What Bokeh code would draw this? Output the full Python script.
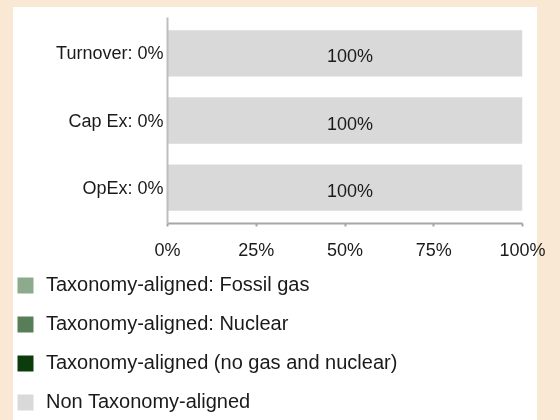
from bokeh.plotting import figure
from bokeh.layouts import column
from bokeh.models import (ColumnDataSource, FactorRange, Range1d, FixedTicker,
                          PrintfTickFormatter, GlobalInlineStyleSheet)
from bokeh.core.properties import value
from bokeh.embed import file_html
from bokeh.resources import INLINE

# ---- data ----
categories = ["Turnover", "Cap Ex", "OpEx"]
fossil_gas = [0, 0, 0]
nuclear = [0, 0, 0]
aligned = [0, 0, 0]
non_aligned = [100, 100, 100]
series_names = ["Taxonomy-aligned: Fossil gas", "Taxonomy-aligned: Nuclear",
                "Taxonomy-aligned (no gas and nuclear)", "Non Taxonomy-aligned"]
series_colors = ["#8DAA8D", "#577E57", "#0C3B0C", "#D9D9D9"]
x_ticks = [0, 25, 50, 75, 100]

FONT = "Liberation Sans"
BEIGE = "#F8E8D4"
TEXT = "#1A1A1A"

aligned_total = [f + n + a for f, n, a in zip(fossil_gas, nuclear, aligned)]
cat_labels = [f"{c}: {t}%" for c, t in zip(categories, aligned_total)]
bar_text = [f"{v}%" for v in non_aligned]
text_x = [t + v / 2 for t, v in zip(aligned_total, non_aligned)]
stackers = ["fg", "nu", "al", "na"]

src = ColumnDataSource(dict(cat=cat_labels, fg=fossil_gas, nu=nuclear, al=aligned,
                            na=non_aligned, tx=text_x, tt=bar_text))

# ---- main bar chart ----
p = figure(width=560, height=262, output_backend="svg", toolbar_location=None,
           y_range=FactorRange(factors=cat_labels[::-1], range_padding=0.024),
           x_range=Range1d(0, 100),
           min_border_left=167, min_border_right=38, min_border_top=17,
           min_border_bottom=36)
p.frame_align = False
p.border_fill_color = None
p.background_fill_color = None
p.outline_line_color = None
css = (f"html {{ background-color: {BEIGE}; }}"
       "html, body { margin: 0; padding: 0; overflow: hidden; }"
       "body { background: transparent; }"
       "body::before { content: ''; position: fixed; left: 13px; top: 7px; width: 524px;"
       " height: 420px; background: #ffffff; z-index: -1; }")
p.stylesheets = [GlobalInlineStyleSheet(css=css)]

p.hbar_stack(stackers, y="cat", height=0.69, color=series_colors, line_color=None,
             source=src)

p.text(x="tx", y="cat", text="tt", source=src, text_align="center",
       text_baseline="middle", text_font=value(FONT), text_font_size="18px",
       text_color=TEXT, x_offset=5, y_offset=3)

p.xgrid.visible = False
p.ygrid.visible = False

xa = p.xaxis[0]
xa.ticker = FixedTicker(ticks=x_ticks)
xa.formatter = PrintfTickFormatter(format="%d%%")
xa.axis_line_color = "#A6A6A6"
xa.axis_line_width = 2
xa.major_tick_line_color = "#A6A6A6"
xa.major_tick_line_width = 2
xa.major_tick_in = 0
xa.major_tick_out = 3
xa.minor_tick_line_color = None
xa.major_label_text_font = FONT
xa.major_label_text_font_size = "18px"
xa.major_label_text_color = TEXT
xa.major_label_standoff = 13

ya = p.yaxis[0]
ya.axis_line_color = "#BDBDBD"
ya.axis_line_width = 2
ya.major_tick_line_color = None
ya.minor_tick_line_color = None
ya.major_tick_out = 0
ya.major_tick_in = 0
ya.major_label_text_font = FONT
ya.major_label_text_font_size = "18px"
ya.major_label_text_color = TEXT
ya.major_label_standoff = 4

# ---- legend panel (zero-height bars carry the legend entries) ----
q = figure(width=560, height=158, output_backend="svg", toolbar_location=None,
           y_range=FactorRange(factors=cat_labels[::-1]), x_range=Range1d(0, 100),
           x_axis_location=None, y_axis_location=None,
           min_border_left=0, min_border_right=0, min_border_top=0, min_border_bottom=0)
q.frame_align = False
q.border_fill_color = None
q.background_fill_color = None
q.outline_line_color = None
q.xgrid.visible = False
q.ygrid.visible = False
q.hbar_stack(stackers, y="cat", height=0, color=series_colors, line_color=None,
             source=src, legend_label=series_names)

lg = q.legend[0]
lg.location = (15, 7)
lg.orientation = "vertical"
lg.padding = 0
lg.margin = 0
lg.border_line_color = None
lg.background_fill_alpha = 0
lg.glyph_width = 20
lg.glyph_height = 20
lg.label_height = 20
lg.label_standoff = 11
lg.spacing = 16
lg.label_text_font = FONT
lg.label_text_font_size = "20px"
lg.label_text_color = TEXT

layout = column(p, q, spacing=0)
open("out.html", "w").write(file_html(layout, INLINE))
